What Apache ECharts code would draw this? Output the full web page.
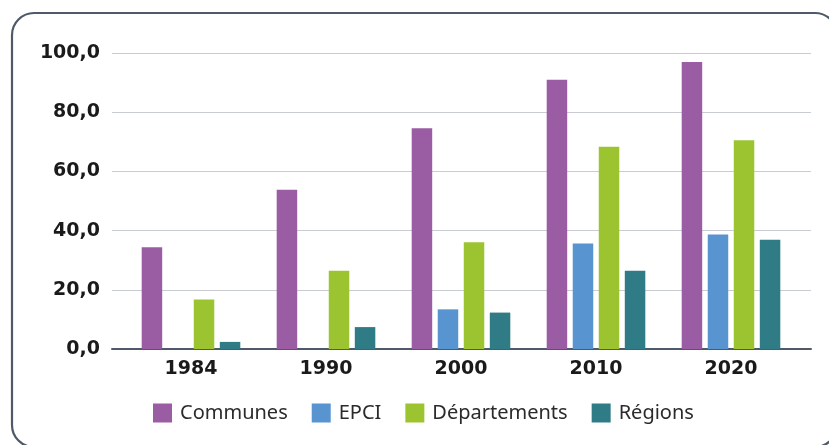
<!DOCTYPE html>
<html>
<head>
<meta charset="utf-8">
<script src="https://cdn.jsdelivr.net/npm/echarts@6/dist/echarts.min.js"></script>
<style>
  html, body { margin: 0; padding: 0; background: #fff; }
  #chart { width: 829px; height: 445px; }
</style>
</head>
<body>
<div id="chart"></div>
<script>
// données
const years = ['1984', '1990', '2000', '2010', '2020'];
const communes = [34.4, 53.8, 74.6, 91.0, 97.0];
const epci = [null, null, 13.4, 35.6, 38.7];
const departements = [16.7, 26.4, 36.1, 68.3, 70.5];
const regions = [2.4, 7.4, 12.3, 26.4, 36.9];
const seriesNames = ['Communes', 'EPCI', 'Départements', 'Régions'];
const seriesColors = ['#9a5ca3', '#5894d0', '#9cc431', '#2f7c86'];

const chart = echarts.init(document.getElementById('chart'));

const labelFont = { fontFamily: 'DejaVu Sans', fontWeight: 'bold', fontSize: 19, color: '#1a1a1a' };

function barSeries(name, data, i) {
    return {
        name: name,
        type: 'bar',
        xAxisIndex: 1,
        yAxisIndex: 1,
        barWidth: 20.5,
        barGap: '27%',
        itemStyle: { color: seriesColors[i] },
        data: data
    };
}

chart.setOption({
    animation: false,
    graphic: [{
        type: 'rect',
        shape: { x: 12, y: 13, width: 825, height: 434, r: 22 },
        style: { fill: 'none', stroke: '#4f5967', lineWidth: 2.2 },
        z: 100
    }],
    legend: {
        left: 153,
        top: 403,
        padding: 0,
        itemWidth: 19,
        itemHeight: 19,
        itemGap: 24,
        icon: 'rect',
        textStyle: { fontFamily: 'Noto Sans', fontSize: 20, color: '#2b2b2b', padding: [0, 0, 0, 3] },
        data: seriesNames
    },
    grid: [
        { left: 112, right: 18, top: 53, bottom: 96 },
        { left: 123.5, right: 30.5, top: 53, bottom: 96 }
    ],
    xAxis: [
        {
            type: 'category',
            gridIndex: 0,
            data: years,
            axisLine: { lineStyle: { color: '#4f5967', width: 2 } },
            axisTick: { show: false },
            axisLabel: { show: false }
        },
        {
            type: 'category',
            gridIndex: 1,
            data: years,
            axisLine: { show: false },
            axisTick: { show: false },
            axisLabel: Object.assign({ margin: 11 }, labelFont)
        }
    ],
    yAxis: [
        {
            type: 'value',
            gridIndex: 0,
            min: 0,
            max: 100,
            interval: 20,
            axisLine: { show: false },
            axisTick: { show: false },
            splitLine: { lineStyle: { color: '#c9cdd3', width: 1.2 } },
            axisLabel: Object.assign({
                margin: 12,
                formatter: v => v.toFixed(1).replace('.', ',')
            }, labelFont)
        },
        {
            type: 'value',
            gridIndex: 1,
            min: 0,
            max: 100,
            interval: 20,
            show: false
        }
    ],
    series: [
        barSeries(seriesNames[0], communes, 0),
        barSeries(seriesNames[1], epci, 1),
        barSeries(seriesNames[2], departements, 2),
        barSeries(seriesNames[3], regions, 3)
    ]
});

window.addEventListener('resize', () => chart.resize());
</script>
</body>
</html>
